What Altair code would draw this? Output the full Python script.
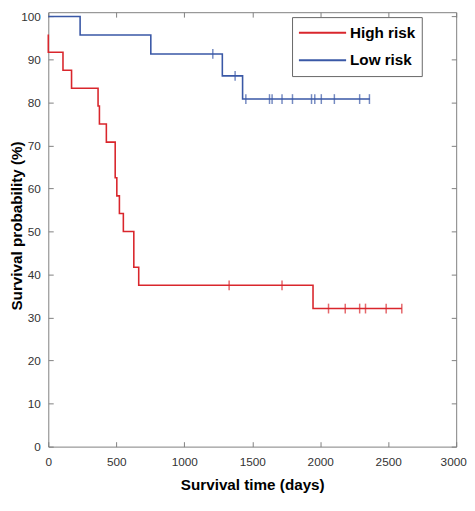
import altair as alt
import pandas as pd

# ---- data (days, survival %) ----
high_time = [0, 0, 108, 171, 366, 376, 427, 492, 504, 523, 552, 629, 665, 1947, 2600]
high_surv = [95.8, 91.7, 87.5, 83.3, 79.2, 75.0, 70.8, 62.5, 58.3, 54.2, 50.0, 41.7, 37.5, 32.1, 32.1]
low_time = [0, 234, 754, 1280, 1429, 2365]
low_surv = [100.0, 95.7, 91.3, 86.2, 80.8, 80.8]

high_cens_time = [1330, 1719, 2061, 2184, 2290, 2333, 2485, 2600]
high_cens_surv = [37.5, 37.5, 32.1, 32.1, 32.1, 32.1, 32.1, 32.1]
low_cens_time = [1210, 1374, 1453, 1627, 1646, 1719, 1796, 1936, 1960, 2008, 2104, 2290, 2362]
low_cens_surv = [91.3, 86.2, 80.8, 80.8, 80.8, 80.8, 80.8, 80.8, 80.8, 80.8, 80.8, 80.8, 80.8]

groups = ["High risk", "Low risk"]
x_ticks = [0, 500, 1000, 1500, 2000, 2500, 3000]
y_ticks = [0, 10, 20, 30, 40, 50, 60, 70, 80, 90, 100]

RED = "#d9262c"
BLUE = "#3a58a6"
GRAY = "#808080"
LABEL = "#333333"
FONT = "Liberation Sans"

steps = pd.concat([
    pd.DataFrame({"time": high_time, "surv": high_surv, "group": groups[0]}),
    pd.DataFrame({"time": low_time, "surv": low_surv, "group": groups[1]}),
], ignore_index=True)
steps["idx"] = range(len(steps))

cens = pd.concat([
    pd.DataFrame({"time": high_cens_time, "surv": high_cens_surv, "group": groups[0]}),
    pd.DataFrame({"time": low_cens_time, "surv": low_cens_surv, "group": groups[1]}),
], ignore_index=True)

W, H = 415, 442
xs = alt.Scale(domain=[0, 3000], nice=False, zero=False)
ys = alt.Scale(domain=[0, 101], nice=False, zero=False)
cs = alt.Scale(domain=groups, range=[RED, BLUE])

main_x = alt.Axis(values=x_ticks, format="d", ticks=False, tickSize=0, domain=False, grid=False,
                  labelPadding=10, labelFont=FONT, labelFontSize=12, labelColor=LABEL,
                  labelFlush=False, labelOverlap=False, labelBound=False,
                  labelOffset={"condition": {"test": "datum.value >= 3000", "value": -3}, "value": 0},
                  title="Survival time (days)", titleFont=FONT, titleFontSize=15.5,
                  titleFontWeight="bold", titleColor="black", titleX=W / 2, titleY=44,
                  titleAlign="center", titleBaseline="alphabetic", titleAngle=0)
main_y = alt.Axis(values=y_ticks, format="d", ticks=False, tickSize=0, domain=False, grid=False,
                  labelPadding=8, labelFont=FONT, labelFontSize=12, labelColor=LABEL,
                  labelFlush=False, labelOverlap=False,
                  title="Survival probability (%)", titleFont=FONT, titleFontSize=15.5,
                  titleFontWeight="bold", titleColor="black", titleAngle=270,
                  titleX=-27, titleY=217, titleAlign="center", titleBaseline="alphabetic")


def inner(orient, offset, values):
    return alt.Axis(orient=orient, offset=offset, values=values, labels=False, domain=False,
                    grid=False, ticks=True, tickSize=5, tickColor=GRAY, tickWidth=1, title=None)


legend = alt.Legend(title=None, orient="none", legendX=248, legendY=5,
                    symbolType="stroke", symbolSize=2304, symbolStrokeWidth=2,
                    labelFont=FONT, labelFontSize=15.5, labelFontWeight="bold",
                    labelColor="black", labelOffset=3, labelLimit=0,
                    strokeColor="#666666", fillColor="white", padding=6,
                    clipHeight=20, rowPadding=8)

lines = alt.Chart(steps).mark_line(interpolate="step-after", strokeWidth=1.6).encode(
    x=alt.X("time:Q", scale=xs, axis=main_x),
    y=alt.Y("surv:Q", scale=ys, axis=main_y),
    color=alt.Color("group:N", scale=cs, legend=legend),
    order=alt.Order("idx:Q"),
)

marks = alt.Chart(cens).mark_tick(orient="vertical", size=10, thickness=1.5).encode(
    x=alt.X("time:Q", scale=xs, axis=inner("top", -H, x_ticks)),
    y=alt.Y("surv:Q", scale=ys, axis=inner("right", -W, y_ticks)),
    color=alt.Color("group:N", scale=cs, legend=None),
)

frame = alt.Chart(steps).mark_line(opacity=0).encode(
    x=alt.X("time:Q", scale=xs, axis=inner("bottom", -H, x_ticks)),
    y=alt.Y("surv:Q", scale=ys, axis=inner("left", -W, y_ticks)),
)

chart = alt.layer(lines, marks, frame).resolve_axis(
    x="independent", y="independent"
).properties(
    width=W, height=H,
    autosize=alt.AutoSizeParams(type="none"),
    padding={"left": 41, "top": 0, "right": 11, "bottom": 48},
    background="white",
).configure_view(stroke=GRAY, strokeWidth=1)

chart.save("out.html", embed_options={"renderer": "svg", "actions": False})
